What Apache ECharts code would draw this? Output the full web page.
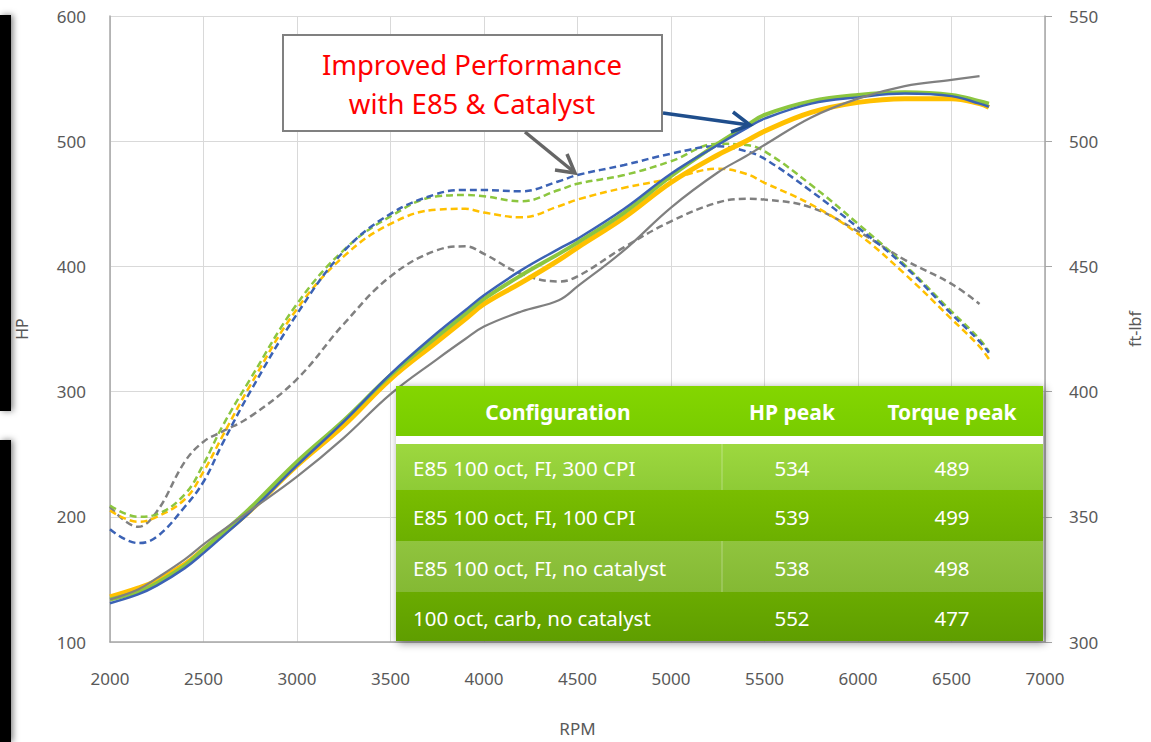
<!DOCTYPE html>
<html>
<head>
<meta charset="utf-8">
<script src="https://cdn.jsdelivr.net/npm/echarts@6/dist/echarts.min.js"></script>
<style>
html,body{margin:0;padding:0;background:#fff;}
#chart{width:1151px;height:742px;}
</style>
</head>
<body>
<div id="chart"></div>
<script>
// ---- data ----
const rpm = [2000,2150,2250,2400,2500,2600,2750,3000,3250,3500,3750,3900,4000,4200,4400,4500,4750,5000,5250,5400,5500,5750,6000,6250,6500,6650,6700];
const xTicks = ['2000','2500','3000','3500','4000','4500','5000','5500','6000','6500','7000'];

// HP (solid lines)
const hpNoCat   = [131,138,145,159,171,184,204,241,276,314,347,365,377,397,414,422,446,474,497,510,518,530,535,538,536,530,527.5];
const hp100cpi  = [134,140,147,161,174,187,207,244,277,313,344,362,374,393,410,419,443,472,498,512,521,532,537,539,537,532,530];
const hp300cpi  = [136,143,149,162,174,186,205,241,273,310,340,358,370,387,405,415,439,467,489,500,508,523,531,534,534,530,527];
const hpCarb    = [134,142,151,166,178,189,205,232,263,298,326,342,352,364,373,384,413,447,475,488,497,519,534,544,549,552,null];

// Torque ft-lbf (dashed lines)
const tqNoCat   = [345,339.5,342,354,364,379,400,431,456,471,479,480.5,480.5,480,484,486.5,490.5,495,498,496,493,480,465.5,450,431,420,415.5];
const tq100cpi  = [354.5,350,351,359,371,386,405,435,456.5,470,478,478.5,478,476,480.5,483,486.5,492,499,498.5,496,482.5,467,450.6,432,421,416];
const tq300cpi  = [352.5,348,350,357,368,382,402.5,433,454,467,472.7,473,471.5,469.6,474,476.7,481.4,485,489,487,483.4,474.7,463,447,429,418,413];
const tqCarb    = [354,346,352,372,380,384,390,405,427,446,456.5,458,455,447,444,446,457.7,468,475.5,477,476.7,473.5,464,452.6,443,435,null];

// table
const tableHeader = ['Configuration','HP peak','Torque peak'];
const configs = ['E85 100 oct, FI, 300 CPI','E85 100 oct, FI, 100 CPI','E85 100 oct, FI, no catalyst','100 oct, carb, no catalyst'];
const hpPeak = [534,539,538,552];
const tqPeak = [489,499,498,477];

const noteLines = ['Improved Performance','with E85 & Catalyst'];

// ---- styling ----
const FONT = 'Noto Sans';
const C_BLUE = '#3b62b5', C_GREEN = '#8cc63f', C_YELLOW = '#ffc000', C_GRAY = '#808080';
const txt = '#595959';

function pts(arr){ const out=[]; rpm.forEach((r,i)=>{ if(arr[i]!==null) out.push([r,arr[i]]); }); return out; }

function line(name, arr, color, width, dashed, yIdx){
  return {
    name, type:'line', data: pts(arr), yAxisIndex: yIdx, smooth: 0.4, showSymbol:false, symbol:'none',
    lineStyle:{color, width, type: dashed ? [7,4] : 'solid', cap:'butt'},
    emphasis:{disabled:true}, z: dashed ? 2 : 3
  };
}

// table graphic
const tX = 396, tY = 386, tW = 647;
const rowH = [50, 8, 46, 51, 51, 49];
const rowColors = [
  ['#84d600','#78cc00'],
  ['#ffffff','#ffffff'],
  ['#9dd83f','#8ecb36'],
  ['#79bd00','#6cb000'],
  ['#90c43e','#84b934'],
  ['#6aab00','#5f9e00']
];
const colX = [413, 792, 952];
const TZ = 100;
const tableEls = [];
let yy = tY;
tableEls.push({type:'rect', z:TZ, shape:{x:tX, y:tY, width:tW, height:rowH.reduce((a,b)=>a+b,0)},
  style:{fill:'#ffffff', shadowBlur:8, shadowColor:'rgba(0,0,0,0.45)', shadowOffsetX:2, shadowOffsetY:2}});
const rowTops = [];
rowH.forEach((h,i)=>{
  rowTops.push(yy);
  tableEls.push({type:'rect', z:TZ+1, shape:{x:tX, y:yy, width:tW, height:h},
    style:{fill:{type:'linear',x:0,y:0,x2:0,y2:1,colorStops:[{offset:0,color:rowColors[i][0]},{offset:1,color:rowColors[i][1]}]}}});
  yy += h;
});
[2,4].forEach(i=>{
  tableEls.push({type:'line', z:TZ+2, shape:{x1:722, y1:rowTops[i], x2:722, y2:rowTops[i]+rowH[i]}, style:{stroke:'rgba(255,255,255,0.35)', lineWidth:1}});
});
const headFont = 'bold 21px "'+FONT+'"';
const bodyFont = '20.5px "'+FONT+'"';
const hy = rowTops[0]+rowH[0]/2+1;
tableEls.push({type:'text', z:TZ+3, style:{text:tableHeader[0], x:558, y:hy, align:'center', verticalAlign:'middle', fill:'#fff', font:headFont}});
tableEls.push({type:'text', z:TZ+3, style:{text:tableHeader[1], x:colX[1], y:hy, align:'center', verticalAlign:'middle', fill:'#fff', font:headFont}});
tableEls.push({type:'text', z:TZ+3, style:{text:tableHeader[2], x:colX[2], y:hy, align:'center', verticalAlign:'middle', fill:'#fff', font:headFont}});
configs.forEach((c,k)=>{
  const i = k+2;
  const cy = rowTops[i]+rowH[i]/2+1;
  tableEls.push({type:'text', z:TZ+3, style:{text:c, x:colX[0], y:cy, align:'left', verticalAlign:'middle', fill:'#fff', font:bodyFont}});
  tableEls.push({type:'text', z:TZ+3, style:{text:String(hpPeak[k]), x:colX[1], y:cy, align:'center', verticalAlign:'middle', fill:'#fff', font:bodyFont}});
  tableEls.push({type:'text', z:TZ+3, style:{text:String(tqPeak[k]), x:colX[2], y:cy, align:'center', verticalAlign:'middle', fill:'#fff', font:bodyFont}});
});

const chart = echarts.init(document.getElementById('chart'), null, {renderer:'svg'});
chart.setOption({
  animation:false,
  backgroundColor:'#ffffff',
  grid:{left:110, right:101, top:16, bottom:92, containLabel:false},
  xAxis:{
    type:'value', min:2000, max:7000, interval:500,
    name:'RPM', nameLocation:'middle', nameGap:78,
    nameTextStyle:{color:txt, fontFamily:FONT, fontSize:17},
    axisLine:{show:true, lineStyle:{color:'#a6a6a6', width:1.5}},
    axisTick:{show:false},
    axisLabel:{color:txt, fontFamily:FONT, fontSize:17, margin:28,
      formatter:(v)=>{ const i = Math.round((v-2000)/500); return xTicks[i] !== undefined ? xTicks[i] : String(v); }},
    splitLine:{show:true, lineStyle:{color:'#d9d9d9', width:1}}
  },
  yAxis:[
    {type:'value', min:100, max:600, interval:100, position:'left',
     name:'HP', nameLocation:'middle', nameGap:80, nameRotate:90,
     nameTextStyle:{color:txt, fontFamily:FONT, fontSize:16},
     axisLine:{show:true, lineStyle:{color:'#a6a6a6', width:1.5}},
     axisTick:{show:false},
     axisLabel:{color:txt, fontFamily:FONT, fontSize:17, margin:24, formatter:(v)=>String(v)},
     splitLine:{show:true, lineStyle:{color:'#d9d9d9', width:1}}
    },
    {type:'value', min:300, max:550, interval:50, position:'right',
     name:'ft-lbf', nameLocation:'middle', nameGap:82, nameRotate:90,
     nameTextStyle:{color:txt, fontFamily:FONT, fontSize:16},
     axisLine:{show:true, lineStyle:{color:'#a6a6a6', width:1.5}},
     axisTick:{show:true, inside:false, length:7, lineStyle:{color:'#a6a6a6'}},
     axisLabel:{color:txt, fontFamily:FONT, fontSize:17, margin:24, formatter:(v)=>String(v)},
     splitLine:{show:false}
    }
  ],
  series:[
    line('Torque carb', tqCarb, C_GRAY, 2.5, true, 1),
    line('Torque 300 CPI', tq300cpi, C_YELLOW, 2.5, true, 1),
    line('Torque 100 CPI', tq100cpi, C_GREEN, 2.5, true, 1),
    line('Torque no cat', tqNoCat, C_BLUE, 2.5, true, 1),
    line('HP 300 CPI', hp300cpi, C_YELLOW, 5, false, 0),
    line('HP 100 CPI', hp100cpi, C_GREEN, 4, false, 0),
    line('HP no cat', hpNoCat, C_BLUE, 2.5, false, 0),
    line('HP carb', hpCarb, C_GRAY, 2.2, false, 0)
  ],
  graphic:[
    {type:'rect', z:90, shape:{x:0, y:15, width:11, height:396}, style:{fill:'#000', shadowBlur:6, shadowColor:'rgba(0,0,0,0.5)', shadowOffsetX:2}},
    {type:'rect', z:90, shape:{x:0, y:440, width:11, height:302}, style:{fill:'#000', shadowBlur:6, shadowColor:'rgba(0,0,0,0.5)', shadowOffsetX:2}},
    {type:'rect', z:90, shape:{x:283, y:35, width:379, height:96}, style:{fill:'#fff', stroke:'#808080', lineWidth:2}},
    {type:'text', z:91, style:{text:noteLines[0], x:472, y:64, align:'center', verticalAlign:'middle', fill:'#ff0000', font:'27.5px "'+FONT+'"'}},
    {type:'text', z:91, style:{text:noteLines[1], x:472, y:103, align:'center', verticalAlign:'middle', fill:'#ff0000', font:'27.5px "'+FONT+'"'}},
    {type:'polyline', z:92, shape:{points:[[663,113],[749,125]]}, style:{stroke:'#1f4e8c', lineWidth:3.5}},
    {type:'polyline', z:92, shape:{points:[[733,112],[750,125],[731,132]]}, style:{stroke:'#1f4e8c', lineWidth:3.5, fill:null}},
    {type:'polyline', z:92, shape:{points:[[525,132],[574,172]]}, style:{stroke:'#666666', lineWidth:3.5}},
    {type:'polyline', z:92, shape:{points:[[567,154],[575,173],[555,170]]}, style:{stroke:'#666666', lineWidth:3.5, fill:null}}
  ].concat(tableEls)
});
</script>
</body>
</html>
